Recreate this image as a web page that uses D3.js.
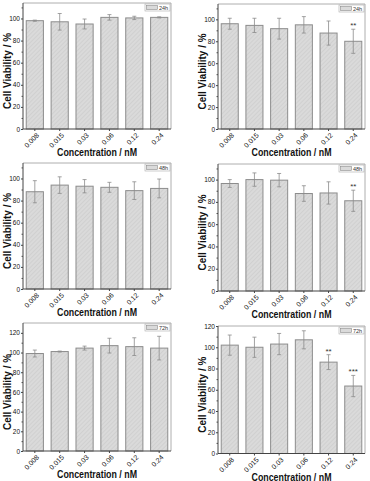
<!DOCTYPE html>
<html>
<head>
<meta charset="utf-8">
<script src="https://cdn.jsdelivr.net/npm/d3@7"></script>
<style>
  body { margin: 0; background: #fff; }
  svg { display: block; font-family: "Liberation Sans", Arial, sans-serif; }
</style>
</head>
<body>
<svg id="chart" width="370" height="481"></svg>
<script>
// concentrations on the x axis
const concLabels = ["0.008", "0.015", "0.03", "0.06", "0.12", "0.24"];

// cell viability (%) and error (+/-)
const viabLeft24 = [98, 97, 95, 101, 100.5, 101];
const errLeft24 = [0.5, 7.5, 4.5, 2.5, 1.5, 0.5];
const viabRight24 = [96, 94.5, 91.5, 95, 87.5, 80];
const errRight24 = [5, 6.5, 9.5, 7.5, 11, 11];
const viabLeft48 = [88, 94, 93, 92, 89, 91];
const errLeft48 = [10, 7.5, 6, 4.5, 8, 8.5];
const viabRight48 = [96.5, 100, 99.5, 87.5, 88, 81];
const errRight48 = [3.5, 6, 6, 7, 10, 9.5];
const viabLeft72 = [99, 101, 104.5, 107, 106, 104.5];
const errLeft72 = [3.5, 0.5, 2, 7.5, 9, 12];
const viabRight72 = [102, 100, 103, 107, 86, 63.5];
const errRight72 = [9.5, 9.5, 10, 8.5, 7, 10];

// significance marks
const sigRight24 = ["", "", "", "", "", "**"];
const sigRight48 = ["", "", "", "", "", "**"];
const sigRight72 = ["", "", "", "", "**", "***"];
const noSig = ["", "", "", "", "", ""];

const legendLabels = ["24h", "24h", "48h", "48h", "72h", "72h"];
const yMaxes = [114, 114, 114, 114, 130, 120];
const yTicks100 = [0, 20, 40, 60, 80, 100];
const yTicks120 = [0, 20, 40, 60, 80, 100, 120];

const panelData = [
    { values: viabLeft24, errs: errLeft24, sig: noSig, ticks: yTicks100 },
    { values: viabRight24, errs: errRight24, sig: sigRight24, ticks: yTicks100 },
    { values: viabLeft48, errs: errLeft48, sig: noSig, ticks: yTicks100 },
    { values: viabRight48, errs: errRight48, sig: sigRight48, ticks: yTicks100 },
    { values: viabLeft72, errs: errLeft72, sig: noSig, ticks: yTicks120 },
    { values: viabRight72, errs: errRight72, sig: sigRight72, ticks: yTicks120 }
];

// plot boxes of the six panels (pixels)
const boxes = [
    { left: 23, right: 171, top: 3, bottom: 129 },
    { left: 218, right: 365, top: 4, bottom: 129 },
    { left: 23, right: 171, top: 163, bottom: 289 },
    { left: 218, right: 365, top: 164, bottom: 291 },
    { left: 23, right: 171, top: 323, bottom: 451 },
    { left: 218, right: 365, top: 326, bottom: 453.5 }
];

const svg = d3.select("#chart");

svg.append("rect").attr("width", 370).attr("height", 481).attr("fill", "#fff");

// hatch pattern for the bars
const defs = svg.append("defs");
const pat = defs.append("pattern")
    .attr("id", "hatch")
    .attr("patternUnits", "userSpaceOnUse")
    .attr("width", 3).attr("height", 3)
    .attr("patternTransform", "rotate(45)");
pat.append("rect").attr("width", 3).attr("height", 3).attr("fill", "#dadada");
pat.append("line")
    .attr("x1", 0).attr("y1", 0).attr("x2", 0).attr("y2", 3)
    .attr("stroke", "#c6c6c6").attr("stroke-width", 1);

panelData.forEach((pd, i) => {
    const b = boxes[i];
    const g = svg.append("g");

    const x = d3.scaleBand()
        .domain(concLabels)
        .range([b.left, b.right])
        .paddingInner(0.31)
        .paddingOuter(0.13);

    const y = d3.scaleLinear()
        .domain([0, yMaxes[i]])
        .range([b.bottom, b.top]);

    // frame (top and right)
    g.append("path")
        .attr("d", `M${b.left},${b.top}H${b.right}V${b.bottom}`)
        .attr("fill", "none")
        .attr("stroke", "#9a9a9a")
        .attr("stroke-width", 0.8);

    // bars
    g.selectAll(".bar")
        .data(pd.values)
        .enter().append("rect")
        .attr("class", "bar")
        .attr("x", (d, j) => x(concLabels[j]))
        .attr("y", d => y(d))
        .attr("width", x.bandwidth())
        .attr("height", d => y(0) - y(d))
        .attr("fill", "url(#hatch)")
        .attr("stroke", "#8c8c8c")
        .attr("stroke-width", 1);

    // error bars
    const eb = g.selectAll(".err")
        .data(pd.values)
        .enter().append("g")
        .attr("class", "err")
        .attr("stroke", "#8c8c8c")
        .attr("stroke-width", 0.8);
    const cx = j => x(concLabels[j]) + x.bandwidth() / 2;
    eb.append("line")
        .attr("x1", (d, j) => cx(j)).attr("x2", (d, j) => cx(j))
        .attr("y1", (d, j) => y(d + pd.errs[j]))
        .attr("y2", (d, j) => y(d - pd.errs[j]));
    eb.append("line")
        .attr("x1", (d, j) => cx(j) - 2).attr("x2", (d, j) => cx(j) + 2)
        .attr("y1", (d, j) => y(d + pd.errs[j]))
        .attr("y2", (d, j) => y(d + pd.errs[j]));
    eb.append("line")
        .attr("x1", (d, j) => cx(j) - 2).attr("x2", (d, j) => cx(j) + 2)
        .attr("y1", (d, j) => y(d - pd.errs[j]))
        .attr("y2", (d, j) => y(d - pd.errs[j]));

    // significance stars
    g.selectAll(".sig")
        .data(pd.values)
        .enter().append("text")
        .attr("class", "sig")
        .attr("x", (d, j) => cx(j))
        .attr("y", (d, j) => y(d + pd.errs[j]) - 1)
        .attr("text-anchor", "middle")
        .attr("font-size", "8px")
        .attr("fill", "#333")
        .text((d, j) => pd.sig[j]);

    // y axis
    const minorTicks = d3.range(10, yMaxes[i], 20);
    g.append("g")
        .attr("transform", `translate(${b.left},0)`)
        .call(d3.axisLeft(y).tickValues(minorTicks).tickSize(1.5).tickFormat(""))
        .call(a => a.select(".domain").remove())
        .selectAll("line").attr("stroke", "#555");

    const ya = g.append("g")
        .attr("transform", `translate(${b.left},0)`)
        .call(d3.axisLeft(y).tickValues(pd.ticks).tickSize(2).tickPadding(1));
    ya.select(".domain").attr("stroke", "#444").attr("d", `M0,${b.top}V${b.bottom}`);
    ya.selectAll("line").attr("stroke", "#444");
    ya.selectAll("text")
        .attr("font-size", "6.5px")
        .attr("fill", "#111")
        .attr("font-family", "'Liberation Sans', Arial, sans-serif");

    // x axis (labels drawn separately, rotated 45 degrees)
    const xa = g.append("g")
        .attr("transform", `translate(0,${b.bottom})`)
        .call(d3.axisBottom(x).tickSize(2).tickSizeOuter(0).tickFormat(""));
    xa.select(".domain").attr("stroke", "#444").attr("d", `M${b.left},0H${b.right}`);
    xa.selectAll("line").attr("stroke", "#444");

    g.selectAll(".xlab")
        .data(concLabels)
        .enter().append("text")
        .attr("class", "xlab")
        .attr("transform", d => `translate(${x(d) + x.bandwidth() / 2 + 3},${b.bottom + 5}) rotate(-45)`)
        .attr("text-anchor", "end")
        .attr("dy", "0.35em")
        .attr("font-size", "7px")
        .attr("fill", "#111")
        .text(d => d);

    // axis titles
    const midX = (b.left + b.right) / 2;
    g.append("text")
        .attr("x", midX)
        .attr("y", b.bottom + 27)
        .attr("text-anchor", "middle")
        .attr("font-size", "11px")
        .attr("font-weight", "bold")
        .attr("fill", "#111")
        .attr("textLength", 80)
        .attr("lengthAdjust", "spacingAndGlyphs")
        .text("Concentration / nM");

    const midY = (b.top + b.bottom) / 2 + 5;
    g.append("text")
        .attr("transform", `translate(${b.left - 12},${midY}) rotate(-90)`)
        .attr("text-anchor", "middle")
        .attr("font-size", "10px")
        .attr("font-weight", "bold")
        .attr("fill", "#111")
        .attr("textLength", 76)
        .attr("lengthAdjust", "spacingAndGlyphs")
        .text("Cell Viability / %");

    // legend
    const lg = g.append("g").attr("transform", `translate(${b.right - 26},${b.top + 1})`);
    lg.append("rect")
        .attr("width", 25).attr("height", 7)
        .attr("fill", "#fff")
        .attr("stroke", "#aaa").attr("stroke-width", 0.6);
    lg.append("rect")
        .attr("x", 1.5).attr("y", 1.5)
        .attr("width", 11).attr("height", 4)
        .attr("fill", "#dadada")
        .attr("stroke", "#8c8c8c").attr("stroke-width", 0.6);
    lg.append("text")
        .attr("x", 14).attr("y", 5.6)
        .attr("font-size", "5.5px")
        .attr("fill", "#333")
        .text(legendLabels[i]);
});
</script>
</body>
</html>
